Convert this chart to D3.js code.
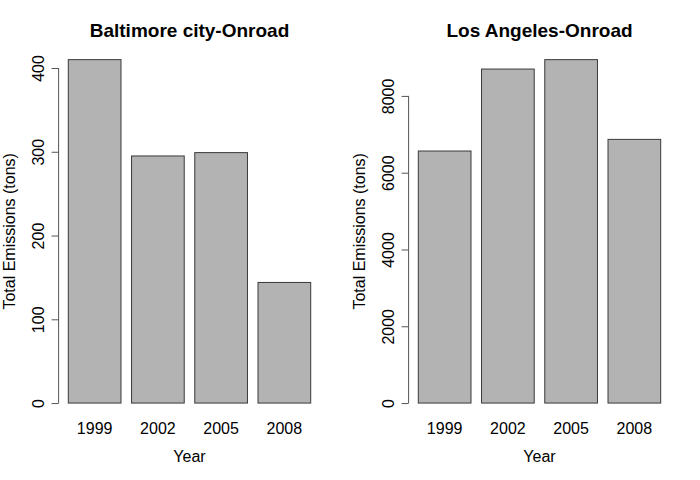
<!DOCTYPE html>
<html>
<head>
<meta charset="utf-8">
<script src="https://cdn.jsdelivr.net/npm/d3@7"></script>
<style>
  body { margin: 0; background: #fff; }
  svg text { font-family: "Liberation Sans", Arial, Helvetica, sans-serif; fill: #000; }
</style>
</head>
<body>
<svg id="chart" width="700" height="480"></svg>
<script>
"use strict";

// data
var years = ["1999", "2002", "2005", "2008"];
var baltimore = [410, 295, 299, 144];
var losAngeles = [6565, 8700, 8945, 6868];
var baltimoreTicks = [0, 100, 200, 300, 400];
var losAngelesTicks = [0, 2000, 4000, 6000, 8000];
var titles = ["Baltimore city-Onroad", "Los Angeles-Onroad"];

var svg = d3.select("#chart");

function panel(left, title, values, ticks) {
    var w = 261.8,
        top = 45.9,
        bottom = 416.8,
        max = d3.max(values),
        g = svg.append("g");

    // R barplot: width 1, space 0.2, 4% axis extension
    var x = d3.scaleBand()
        .domain(years)
        .range([left, left + w])
        .paddingInner(0.2 / 1.2)
        .paddingOuter(0.184 / 1.2);

    var y = d3.scaleLinear()
        .domain([-0.04 * max, 1.04 * max])
        .range([bottom, top]);

    g.selectAll("rect.bar")
        .data(values)
        .enter().append("rect")
        .attr("class", "bar")
        .attr("x", function (d, i) { return x(years[i]); })
        .attr("width", x.bandwidth())
        .attr("y", function (d) { return y(d); })
        .attr("height", function (d) { return y(0) - y(d); })
        .attr("fill", "#b3b3b3")
        .attr("stroke", "#3a3a3a")
        .attr("stroke-width", 1);

    // y axis, line only between first and last tick
    var ax = g.append("g")
        .attr("transform", "translate(" + left + ",0)")
        .call(d3.axisLeft(y).tickValues(ticks).tickFormat(d3.format("d")).tickSize(7).tickSizeOuter(0));
    ax.select(".domain").remove();
    ax.append("line")
        .attr("y1", y(ticks[0]))
        .attr("y2", y(ticks[ticks.length - 1]))
        .attr("stroke", "#555");
    ax.selectAll(".tick line").attr("stroke", "#555");
    ax.selectAll(".tick text")
        .attr("transform", "rotate(-90)")
        .attr("x", 0)
        .attr("y", -14.5)
        .attr("dy", 0)
        .attr("text-anchor", "middle")
        .style("font-size", "16px")
        .style("font-family", "'Liberation Sans', Arial, sans-serif")
        .attr("fill", "#000");

    // category labels
    g.selectAll("text.year")
        .data(years)
        .enter().append("text")
        .attr("class", "year")
        .attr("x", function (d) { return x(d) + x.bandwidth() / 2; })
        .attr("y", 434)
        .attr("text-anchor", "middle")
        .style("font-size", "16px")
        .text(function (d) { return d; });

    g.append("text")
        .attr("x", left + w / 2)
        .attr("y", 462)
        .attr("text-anchor", "middle")
        .style("font-size", "16px")
        .text("Year");

    g.append("text")
        .attr("transform", "translate(" + (left - 44) + "," + ((top + bottom) / 2) + ") rotate(-90)")
        .attr("text-anchor", "middle")
        .style("font-size", "16px")
        .text("Total Emissions (tons)");

    g.append("text")
        .attr("x", left + w / 2)
        .attr("y", 37)
        .attr("text-anchor", "middle")
        .style("font-size", "19px")
        .style("font-weight", "bold")
        .text(title);
}

panel(58.6, titles[0], baltimore, baltimoreTicks);
panel(408.6, titles[1], losAngeles, losAngelesTicks);
</script>
</body>
</html>
